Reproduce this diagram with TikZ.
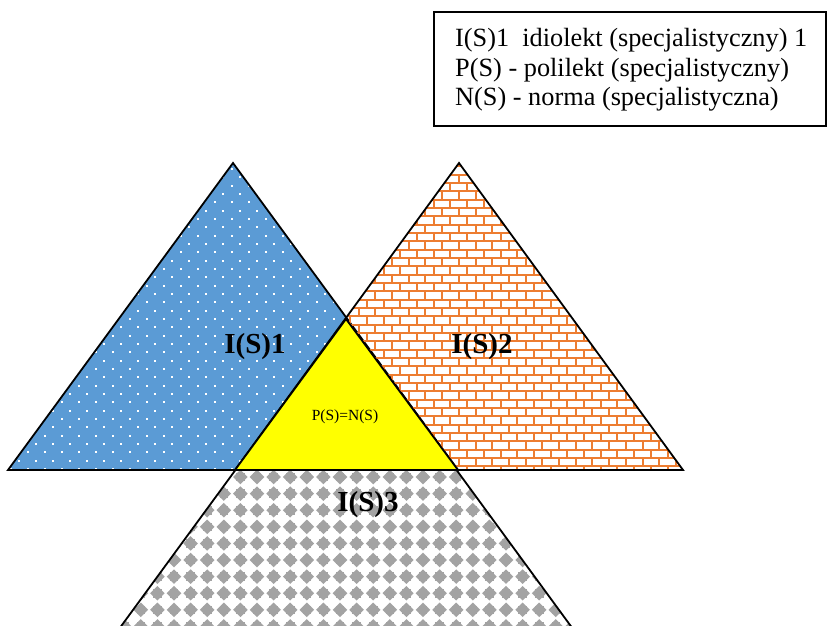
\documentclass[tikz,border=0pt]{standalone}
\usepackage{fontspec}
\setmainfont{Liberation Serif}
\usetikzlibrary{positioning}
\definecolor{dotc}{HTML}{5B9BD5}
\definecolor{brickc}{HTML}{ED7D31}
\definecolor{checkc}{HTML}{A3A3A3}
\definecolor{corec}{HTML}{FFFF00}
\tikzset{
  tri/.style={draw=black, line width=1.8pt, line join=miter},
  brickline/.style={brickc, line width=2pt},
  bigname/.style={font=\fontsize{29}{31}\selectfont\bfseries, inner sep=0pt},
  legtext/.style={font=\fontsize{26.3}{29}\selectfont, anchor=base west, inner sep=0pt},
}

\begin{document}
\begin{tikzpicture}[x=1pt, y=-1pt]
  \useasboundingbox (0,0) rectangle (828,626);
  % corners
  \coordinate (a1) at (233,163); \coordinate (l1) at (8,470);   \coordinate (r1) at (458,470);
  \coordinate (a2) at (459,163); \coordinate (l2) at (235,470); \coordinate (r2) at (683,470);
  \coordinate (a3) at (346,319); \coordinate (l3) at (111,640); \coordinate (r3) at (581,640);
  \coordinate (cl) at (235,470); \coordinate (cr) at (458,470);

  % I(S)3, grey checker
  \begin{scope}
    \clip (a3) -- (l3) -- (r3) -- cycle;
    \foreach \r in {0,...,20}
      \foreach \c in {0,...,35}{
        \fill[checkc] ({8+\c*16.6},{311+\r*16.6}) +(-7.3,0) -- +(0,-7.3) -- +(7.3,0) -- +(0,7.3) -- cycle;
        \fill[checkc] ({8+\c*16.6},{311+\r*16.6}) +(-4.3,-4.3) rectangle +(4.3,4.3);
      }
  \end{scope}
  \draw[tri] (a3) -- (l3) -- (r3) -- cycle;

  % I(S)1, blue with white dots
  \begin{scope}
    \clip (a1) -- (l1) -- (r1) -- cycle;
    \fill[dotc] (0,150) rectangle (470,480);
    \foreach \r in {0,...,40}{
      \pgfmathsetmacro\off{10.5-8.5*mod(\r,2)}
      \foreach \c in {0,...,28}
        \fill[white] ({\off+\c*17},{152.5+\r*8.33}) +(-1,-1) rectangle +(1,1);
    }
  \end{scope}
  \draw[tri] (a1) -- (l1) -- (r1) -- cycle;

  % I(S)2, orange bricks
  \begin{scope}
    \clip (a2) -- (l2) -- (r2) -- cycle;
    \foreach \r in {0,...,38}{
      \pgfmathsetmacro\yy{158+\r*8.33}
      \pgfmathsetmacro\off{mod(\r,2)*8.35}
      \draw[brickline] (225,\yy) -- (695,\yy);
      \foreach \c in {0,...,28}
        \draw[brickline] ({225+\off+\c*16.7},\yy) -- ++(0,8.33);
    }
  \end{scope}
  \draw[tri] (a2) -- (l2) -- (r2) -- cycle;

  % common part
  \filldraw[tri, fill=corec] (a3) -- (cl) -- (cr) -- cycle;

  \node[bigname] (n1) at (255,347) {I(S)1};
  \node[bigname] (n2) at (482,347) {I(S)2};
  \node[bigname] (n3) at (368,505) {I(S)3};
  \node[font=\fontsize{15.5}{17}\selectfont, inner sep=0pt] (core) at (345,417) {P(S)=N(S)};

  % legend
  \draw[line width=1.4pt] (434,12) rectangle (826,126);
  \node[legtext] (leg1) at (455,47)   {I(S)1\ \ idiolekt (specjalistyczny) 1};
  \node[legtext] (leg2) at (455,76.5) {P(S) - polilekt (specjalistyczny)};
  \node[legtext] (leg3) at (455,106)  {N(S) - norma (specjalistyczna)};
\end{tikzpicture}
\end{document}
